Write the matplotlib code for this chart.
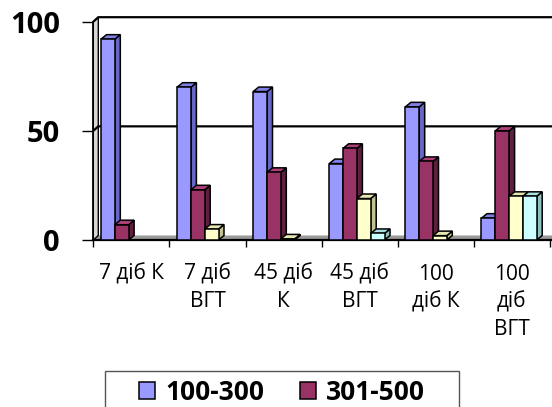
import matplotlib
matplotlib.use("Agg")
import matplotlib.pyplot as plt
from matplotlib.patches import Polygon, Rectangle, Patch

categories = ['7 діб К', '7 діб\nВГТ', '45 діб\nК', '45 діб\nВГТ', '100\nдіб К', '100\nдіб\nВГТ']
s_100_300 = [92, 70, 68, 35, 61, 10]
s_301_500 = [7, 23, 31, 42, 36, 50]
s_third = [0, 5, 0.5, 19, 2, 20]
s_fourth = [0, 0, 0, 3, 0, 20]
series_names = ['100-300', '301-500']
yticks = [0, 50, 100]

# front, top, side colours of each series
colours = [('#9999ff', '#7f7fe6', '#6666c4'),
           ('#993366', '#b04078', '#5e1f40'),
           ('#ffffcc', '#e6e6b3', '#c2c294'),
           ('#ccffff', '#a8e0e0', '#8fc2c2')]

W, H = 552, 407
CAT_PX = 76.1
XMAX = 6.6
fig = plt.figure(figsize=(W / 100, H / 100), dpi=100)
ax = fig.add_axes([93.3 / W, (H - 240) / H, XMAX * CAT_PX / W, 218.3 / H])
ax.set_xlim(0, XMAX)
ax.set_ylim(0, 100)

px_y = 218.3 / 100
dx = 5.0 / CAT_PX
dy = 4.5 / px_y

# walls, floor and gridlines
ax.add_patch(Polygon([(0, 0), (XMAX, 0), (XMAX + dx, dy), (dx, dy)],
                     closed=True, fc='#9a9a9a', ec='none', zorder=1, clip_on=False))
ax.add_patch(Polygon([(0, 0), (0, 100), (dx, 100 + dy), (dx, dy)],
                     closed=True, fc='#d8d8d8', ec='black', lw=1, zorder=1, clip_on=False))
for v in yticks[1:]:
    ax.plot([0, dx, XMAX + dx], [v, v + dy, v + dy], color='black', lw=1.6,
            zorder=1.5, clip_on=False, solid_capstyle='butt')

# 3d columns
w = 13.8 / CAT_PX
bx = 5.5 / CAT_PX
all_series = [s_100_300, s_301_500, s_third, s_fourth]
for i in range(len(categories)):
    x0 = i + 0.5 - 2 * w - bx / 2
    for j, vals in enumerate(all_series):
        v = vals[i]
        if v <= 0:
            continue
        x = x0 + j * w
        front, top, side = colours[j]
        ax.add_patch(Polygon([(x + w, 0), (x + w + bx, dy), (x + w + bx, v + dy), (x + w, v)],
                             closed=True, fc=side, ec='black', lw=1.1, zorder=3, clip_on=False))
        ax.add_patch(Polygon([(x, v), (x + bx, v + dy), (x + w + bx, v + dy), (x + w, v)],
                             closed=True, fc=top, ec='black', lw=1.1, zorder=3, clip_on=False))
        ax.add_patch(Rectangle((x, 0), w, v, fc=front, ec='black', lw=1.1, zorder=3, clip_on=False))

for s in ['top', 'right']:
    ax.spines[s].set_visible(False)
ax.spines['left'].set_linewidth(1.2)
ax.spines['bottom'].set_linewidth(1.6)
ax.spines['left'].set_zorder(2)
ax.spines['bottom'].set_zorder(2)

ax.set_yticks(yticks)
ax.set_yticklabels([str(t) for t in yticks], fontsize=21, fontweight='bold', family='Open Sans')
ax.tick_params(axis='y', length=8, width=1, pad=16)

ax.set_xticks(range(len(categories) + 1))
ax.set_xticklabels([])
ax.tick_params(axis='x', which='major', length=5, width=1)
ax.set_xticks([i + 0.5 for i in range(len(categories))], minor=True)
ax.set_xticklabels(categories, minor=True, fontsize=15, family='Open Sans', linespacing=1.4)
ax.tick_params(axis='x', which='minor', length=0, pad=17)

handles = [Patch(fc=colours[k][0], ec='black', lw=1.1) for k in range(2)]
fig.legend(handles, series_names, loc='upper left', bbox_to_anchor=(139 / W, (H - 379) / H),
           ncol=2, frameon=False, borderpad=0, borderaxespad=0,
           prop={'family': 'Open Sans', 'weight': 'bold', 'size': 19},
           handlelength=0.6, handleheight=0.6, handletextpad=0.4, columnspacing=1.35)
fig.add_artist(Rectangle((105 / W, -20 / H), 354 / W, (H - 371 + 20) / H,
                         transform=fig.transFigure, fill=False, ec='#555555', lw=1))

fig.savefig('out.png', dpi=100)
